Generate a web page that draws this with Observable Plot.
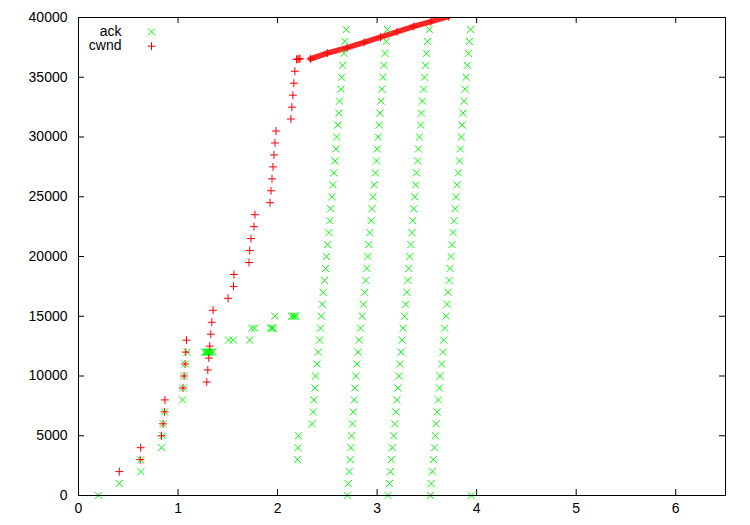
<!DOCTYPE html>
<html><head><meta charset="utf-8">
<script src="https://cdn.jsdelivr.net/npm/d3@7"></script>
<script src="https://cdn.jsdelivr.net/npm/@observablehq/plot@0.6"></script>
<style>body{margin:0;background:#fff}</style>
</head><body><div id="chart"></div>
<script>
// tick labels
const xTicks = [0, 1, 2, 3, 4, 5, 6];
const yTicks = [0, 5000, 10000, 15000, 20000, 25000, 30000, 35000, 40000];

// ack series: early part
const ackEarly = [
  [0.20,0],[0.41,1000],[0.627,2000],[0.627,3000],[0.834,4000],[0.845,5000],[0.85,6000],[0.865,7000],
  [1.045,8000],[1.052,9000],[1.061,10000],[1.071,11000],[1.088,12000],
  [1.265,12000],[1.28,12000],[1.29,12000],[1.30,12000],[1.31,12000],[1.32,12000],[1.335,12000],[1.35,12000],
  [1.508,13000],[1.555,13000],[1.72,13000],
  [1.74,14000],[1.77,14000],[1.93,14000],[1.945,14000],[1.955,14000],
  [1.972,15000],[2.14,15000],[2.155,15000],[2.17,15000],[2.185,15000],
  [2.20,3000],[2.205,4000],[2.21,5000]
];
// ack series: four retransmission sweeps
const ackSweep1 = [
  [2.349,6000],[2.359,7000],[2.365,8000],[2.375,9000],[2.382,10000],[2.395,11000],[2.409,12000],[2.422,13000],
  [2.432,14000],[2.439,15000],[2.449,16000],[2.459,17000],[2.472,18000],[2.482,19000],[2.492,20000],[2.503,21000],
  [2.516,22000],[2.526,23000],[2.533,24000],[2.546,25000],[2.556,26000],[2.566,27000],[2.576,28000],[2.586,29000],
  [2.593,30000],[2.606,31000],[2.616,32000],[2.623,33000],[2.636,34000],[2.643,35000],[2.653,36000],[2.666,37000],
  [2.676,38000],[2.690,39000]
];
const ackSweep2 = [
  [2.700,0],[2.711,1000],[2.720,2000],[2.730,3000],[2.736,4000],[2.743,5000],[2.753,6000],[2.760,7000],
  [2.770,8000],[2.777,9000],[2.786,10000],[2.796,11000],[2.808,12000],[2.820,13000],[2.834,14000],[2.850,15000],
  [2.862,16000],[2.874,17000],[2.887,18000],[2.897,19000],[2.907,20000],[2.917,21000],[2.927,22000],[2.940,23000],
  [2.950,24000],[2.960,25000],[2.971,26000],[2.983,27000],[2.994,28000],[3.001,29000],[3.011,30000],[3.021,31000],
  [3.029,32000],[3.039,33000],[3.049,34000],[3.059,35000],[3.069,36000],[3.079,37000],[3.092,38000],[3.104,39000]
];
const ackSweep3 = [
  [3.111,0],[3.124,1000],[3.134,2000],[3.144,3000],[3.154,4000],[3.166,5000],[3.177,6000],[3.188,7000],
  [3.200,8000],[3.210,9000],[3.218,10000],[3.228,11000],[3.241,12000],[3.252,13000],[3.262,14000],[3.275,15000],
  [3.287,16000],[3.298,17000],[3.308,18000],[3.318,19000],[3.328,20000],[3.339,21000],[3.350,22000],[3.358,23000],
  [3.368,24000],[3.378,25000],[3.388,26000],[3.396,27000],[3.407,28000],[3.415,29000],[3.425,30000],[3.437,31000],
  [3.445,32000],[3.455,33000],[3.467,34000],[3.477,35000],[3.486,36000],[3.496,37000],[3.507,38000],[3.524,39000]
];
const ackSweep4 = [
  [3.536,0],[3.543,1000],[3.555,2000],[3.566,3000],[3.576,4000],[3.586,5000],[3.594,6000],[3.604,7000],
  [3.616,8000],[3.626,9000],[3.634,10000],[3.648,11000],[3.659,12000],[3.669,13000],[3.679,14000],[3.692,15000],
  [3.703,16000],[3.713,17000],[3.723,18000],[3.733,19000],[3.743,20000],[3.753,21000],[3.763,22000],[3.773,23000],
  [3.783,24000],[3.793,25000],[3.803,26000],[3.816,27000],[3.828,28000],[3.836,29000],[3.846,30000],[3.854,31000],
  [3.863,32000],[3.873,33000],[3.883,34000],[3.894,35000],[3.906,36000],[3.917,37000],[3.927,38000],[3.940,39000]
];
const ackTail = [[3.945,0]];

// cwnd series
const cwndPoints = [
  [0.41,2000],[0.62,3000],[0.625,4000],[0.834,5000],[0.85,6000],[0.865,7000],[0.868,8000],
  [1.05,9000],[1.061,10000],[1.071,11000],[1.078,12000],[1.085,13000],
  [1.289,9500],[1.299,10500],[1.309,11500],[1.319,12500],[1.329,13500],[1.339,14500],[1.352,15500],
  [1.503,16500],[1.557,17500],[1.562,18500],
  [1.713,19500],[1.72,20500],[1.733,21500],[1.763,22500],[1.773,23500],
  [1.924,24500],[1.934,25500],[1.944,26500],[1.954,27500],[1.964,28500],[1.974,29500],[1.984,30500],
  [2.134,31500],[2.144,32500],[2.154,33500],[2.164,34500],[2.174,35500],
  [2.19,36500],[2.205,36500],[2.215,36550],[2.225,36550]
];
// cwnd congestion-avoidance run (densely packed markers form a band)
const cwndBand = [
  [2.332,36540],[2.50,37020],[2.70,37470],[2.87,37920],[3.034,38350],[3.20,38800],[3.368,39250],[3.54,39660],[3.716,40070]
];

const ackColor = "#00ff00";
const cwndColor = "#ff0000";
const ackAll = [...ackEarly, ...ackSweep1, ...ackSweep2, ...ackSweep3, ...ackSweep4, ...ackTail];

const innerW = 750 - 78 - 25;
const innerH = 525 - 17 - 30;
const tickLen = 6;

const chart = Plot.plot({
  width: 750, height: 525,
  marginLeft: 78, marginRight: 25, marginTop: 17, marginBottom: 30,
  style: {fontFamily: "'Liberation Sans', Arial, sans-serif", fontSize: "14px", color: "black", background: "white"},
  x: {domain: [0, 6.5]},
  y: {domain: [0, 40000]},
  marks: [
    Plot.line(cwndBand, {x: d => d[0], y: d => d[1], stroke: cwndColor, strokeWidth: 5.5, strokeOpacity: 0.85, clip: true}),
    Plot.dot(cwndBand, {x: d => d[0], y: d => d[1], symbol: "plus", r: 2.7, stroke: cwndColor, strokeWidth: 1, clip: true}),
    Plot.dot(ackAll, {x: d => d[0], y: d => d[1], symbol: "times", r: 3.3, stroke: ackColor, strokeWidth: 1}),
    Plot.dot(cwndPoints, {x: d => d[0], y: d => d[1], symbol: "plus", r: 2.7, stroke: cwndColor, strokeWidth: 1}),
    Plot.frame({stroke: "black", strokeWidth: 1}),
    Plot.tickX(xTicks, {x: d => d, insetTop: innerH - tickLen, stroke: "black"}),
    Plot.tickX(xTicks, {x: d => d, insetBottom: innerH - tickLen, stroke: "black"}),
    Plot.tickY(yTicks, {y: d => d, insetRight: innerW - tickLen, stroke: "black"}),
    Plot.tickY(yTicks, {y: d => d, insetLeft: innerW - tickLen, stroke: "black"}),
    Plot.axisX({ticks: xTicks, tickSize: 0, tickPadding: 8, label: null, tickFormat: d => String(d)}),
    Plot.axisY({ticks: yTicks, tickSize: 0, tickPadding: 11, label: null, tickFormat: d => String(d)}),
    Plot.text(["ack"], {frameAnchor: "top-left", dx: 43, dy: 14.5, lineAnchor: "middle", textAnchor: "end", text: d => d, fontSize: 14}),
    Plot.text(["cwnd"], {frameAnchor: "top-left", dx: 43, dy: 28.5, lineAnchor: "middle", textAnchor: "end", text: d => d, fontSize: 14}),
    Plot.dot(["ack"], {frameAnchor: "top-left", dx: 73, dy: 14.3, symbol: "times", r: 3.3, stroke: ackColor, strokeWidth: 1}),
    Plot.dot(["cwnd"], {frameAnchor: "top-left", dx: 73, dy: 28.7, symbol: "plus", r: 2.7, stroke: cwndColor, strokeWidth: 1})
  ]
});
document.getElementById("chart").appendChild(chart);
</script>
</body></html>
